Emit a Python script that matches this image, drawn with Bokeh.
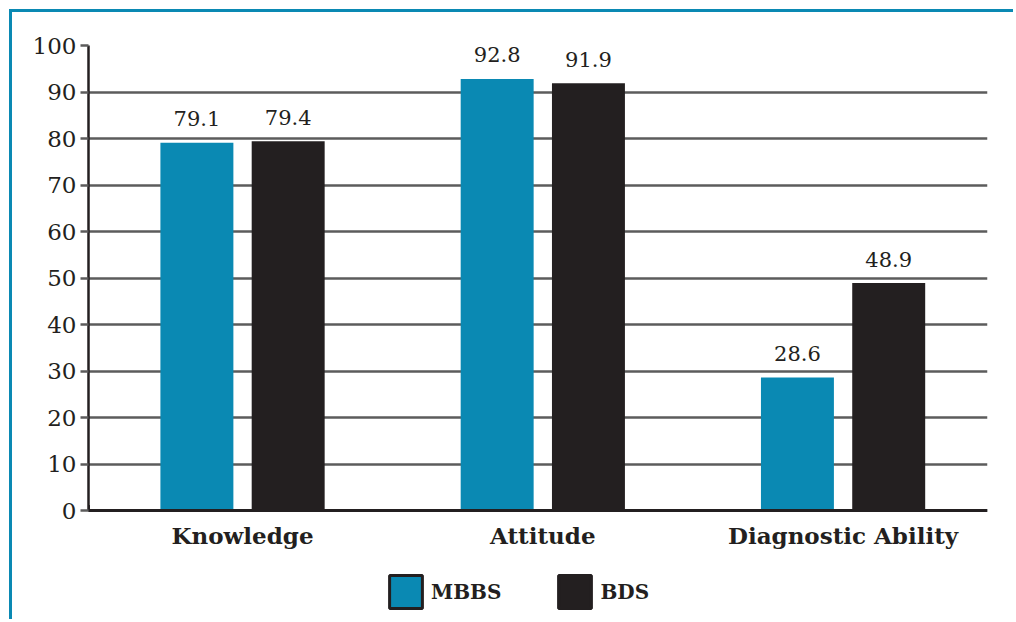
from bokeh.plotting import figure
from bokeh.models import Range1d, FixedTicker, Legend, LegendItem, ColumnDataSource
from bokeh.embed import file_html
from bokeh.resources import INLINE
from bokeh.core.properties import value

categories = ["Knowledge", "Attitude", "Diagnostic Ability"]
mbbs = [79.1, 92.8, 28.6]
bds = [79.4, 91.9, 48.9]
y_ticks = [0, 10, 20, 30, 40, 50, 60, 70, 80, 90, 100]

TEAL = "#0a89b3"
DARK = "#231f20"
GRID = "#5c5c5c"
FONT = "DejaVu Serif"

W, H = 1004, 610
ML, MR, MT, MB = 76, 29, 33, 0
# frame extends below zero so the category labels and legend sit inside it
Y_MIN = 100 - (H - MT - MB) / 4.65

xpos = [i + 0.5 for i in range(len(categories))]
off = 0.152
w = 0.243

src = ColumnDataSource(dict(
    xm=[x - off for x in xpos], xb=[x + off for x in xpos],
    mbbs=mbbs, bds=bds,
    lm=[f"{v:.1f}" for v in mbbs], lb=[f"{v:.1f}" for v in bds],
))

p = figure(width=W, height=H, output_backend="svg", toolbar_location=None,
           x_range=Range1d(-0.013, 2.981), y_range=Range1d(Y_MIN, 100),
           min_border_left=ML, min_border_right=MR, min_border_top=MT, min_border_bottom=MB)
p.styles = {"margin-left": "9px", "margin-top": "9px",
            "border-top": f"3px solid {TEAL}", "border-left": f"3px solid {TEAL}"}
p.outline_line_color = None
p.xgrid.grid_line_color = None
p.ygrid.grid_line_color = GRID
p.ygrid.grid_line_width = 2.5

rm = p.vbar(x="xm", top="mbbs", width=w, source=src, fill_color=TEAL, line_color=None)
rb = p.vbar(x="xb", top="bds", width=w, source=src, fill_color=DARK, line_color=None)

p.text(x="xm", y="mbbs", text="lm", source=src, text_align="center", text_baseline="alphabetic",
       y_offset=-24, text_font=value(FONT), text_font_size="21px", text_color=DARK)
p.text(x="xb", y="bds", text="lb", source=src, text_align="center", text_baseline="alphabetic",
       y_offset=-24, text_font=value(FONT), text_font_size="21px", text_color=DARK)

# y axis
ya = p.yaxis[0]
ya.ticker = FixedTicker(ticks=y_ticks)
ya.bounds = (0, 100)
ya.minor_tick_line_color = None
ya.major_tick_in = 0
ya.major_tick_out = 8
ya.major_tick_line_color = GRID
ya.major_tick_line_width = 2.5
ya.axis_line_color = DARK
ya.axis_line_width = 2.5
ya.major_label_text_font = FONT
ya.major_label_text_font_size = "23px"
ya.major_label_text_color = DARK
ya.major_label_standoff = 4

# x axis at y = 0
xa = p.xaxis[0]
xa.fixed_location = 0
xa.ticker = FixedTicker(ticks=xpos)
xa.major_label_overrides = {x: c for x, c in zip(xpos, categories)}
xa.minor_tick_line_color = None
xa.major_tick_line_color = None
xa.axis_line_color = DARK
xa.axis_line_width = 3
xa.major_label_text_font = FONT
xa.major_label_text_font_style = "bold"
xa.major_label_text_font_size = "23px"
xa.major_label_text_color = DARK
xa.major_label_standoff = 5

# legend swatches (renderers placed off-range so only the legend shows them)
lm_r = p.vbar(x=[-5], top=[1], width=w, fill_color=TEAL, line_color=DARK, line_width=3)
lb_r = p.vbar(x=[-5], top=[1], width=w, fill_color=DARK, line_color=DARK, line_width=3)
legend = Legend(items=[LegendItem(label="MBBS", renderers=[lm_r]),
                       LegendItem(label="BDS", renderers=[lb_r])],
                orientation="horizontal", location=(297, 10),
                glyph_width=41, glyph_height=41, label_standoff=5, spacing=53,
                label_text_font=FONT, label_text_font_style="bold", label_text_font_size="20px",
                label_text_color=DARK, border_line_color=None, background_fill_alpha=0,
                margin=0, padding=0)
p.add_layout(legend, "center")

open("out.html", "w").write(file_html(p, INLINE))
